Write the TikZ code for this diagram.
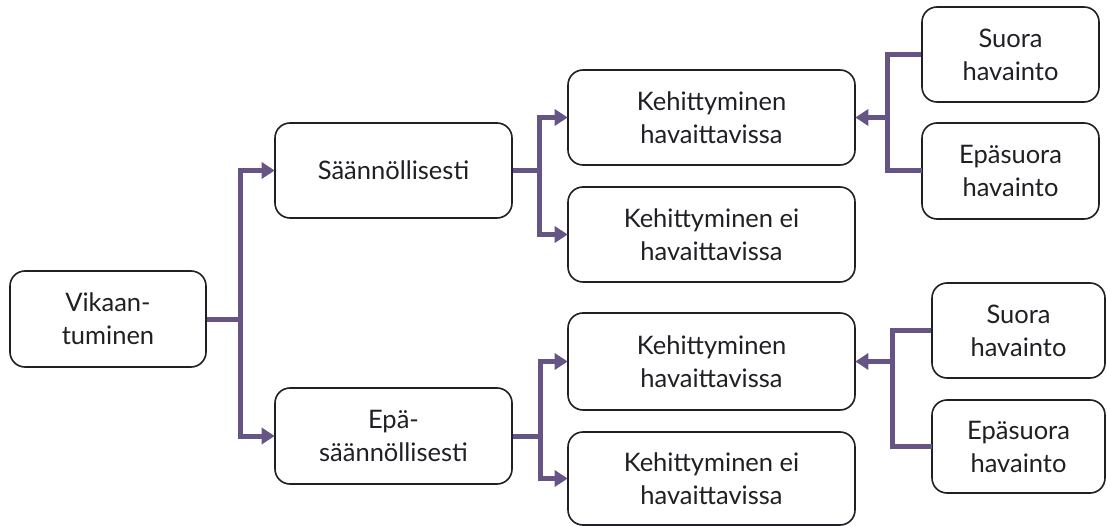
\documentclass[tikz,border=0pt]{standalone}
\usepackage{fontspec}
\setmainfont{Lato}
\usetikzlibrary{arrows.meta,calc}
\definecolor{linkcol}{rgb}{0.40,0.33,0.52}
\definecolor{inkcol}{rgb}{0.12,0.12,0.14}
\begin{document}
\begin{tikzpicture}[x=1pt,y=-1pt,
  box/.style={draw=inkcol,line width=1.6pt,rounded corners=15pt,
    align=center,font=\fontsize{25.5}{33}\selectfont,text=inkcol,inner sep=0pt},
  link/.style={draw=linkcol,line width=5pt},
  tip/.style={link,-{Triangle[length=13pt,width=16pt]}},
  shorten >=-0.5pt]
\useasboundingbox (0,0) rectangle (1107,526);

% root
\node[box,minimum width=196pt,minimum height=96pt] (vik) at (108,319) {Vikaan-\\tuminen};

% second level
\node[box,minimum width=237pt,minimum height=95pt] (saan) at (393.5,170.5) {Säännöllisesti};
\node[box,minimum width=237pt,minimum height=96pt] (epasaan) at (393.5,436) {Epä-\\säännöllisesti};

% third level
\node[box,minimum width=287pt,minimum height=95pt] (kh1) at (711.5,117.5) {Kehittyminen\\havaittavissa};
\node[box,minimum width=287pt,minimum height=95pt] (ke1) at (711.5,234.5) {Kehittyminen ei\\havaittavissa};
\node[box,minimum width=287pt,minimum height=97pt] (kh2) at (711.5,361.5) {Kehittyminen\\havaittavissa};
\node[box,minimum width=287pt,minimum height=93pt] (ke2) at (711.5,478.5) {Kehittyminen ei\\havaittavissa};

% observation boxes
\node[box,minimum width=177pt,minimum height=95pt] (su1) at (1010.5,54.5) {Suora\\havainto};
\node[box,minimum width=177pt,minimum height=96pt] (es1) at (1010.5,171) {Epäsuora\\havainto};
\node[box,minimum width=173pt,minimum height=95pt] (su2) at (1018.5,330.5) {Suora\\havainto};
\node[box,minimum width=173pt,minimum height=93pt] (es2) at (1018.5,446.5) {Epäsuora\\havainto};

% junction columns
\coordinate (j1) at ([xshift=34pt]vik.east);
\coordinate (j2) at ([xshift=27pt]saan.east);
\coordinate (j3) at ([xshift=28pt]epasaan.east);
\coordinate (j4) at ([xshift=-34pt]su1.west);
\coordinate (j5) at ([xshift=-39pt]su2.west);

% root -> second level
\draw[link] (vik.east) -- (j1);
\draw[tip] (j1) |- (saan.west);
\draw[tip] (j1) |- (epasaan.west);

% second level -> third level
\draw[link] (saan.east) -- (j2);
\draw[tip] (j2) |- (kh1.west);
\draw[tip] (j2) |- (ke1.west);
\draw[link] (epasaan.east) -- (j3);
\draw[tip] (j3) |- (kh2.west);
\draw[tip] (j3) |- (ke2.west);

% observations -> development
\draw[link] (su1.west) -| (j4 |- kh1.east) |- (es1.west);
\draw[tip] (j4 |- kh1.east) -- (kh1.east);
\draw[link] (su2.west) -| (j5 |- kh2.east) |- (es2.west);
\draw[tip] (j5 |- kh2.east) -- (kh2.east);
\end{tikzpicture}
\end{document}
